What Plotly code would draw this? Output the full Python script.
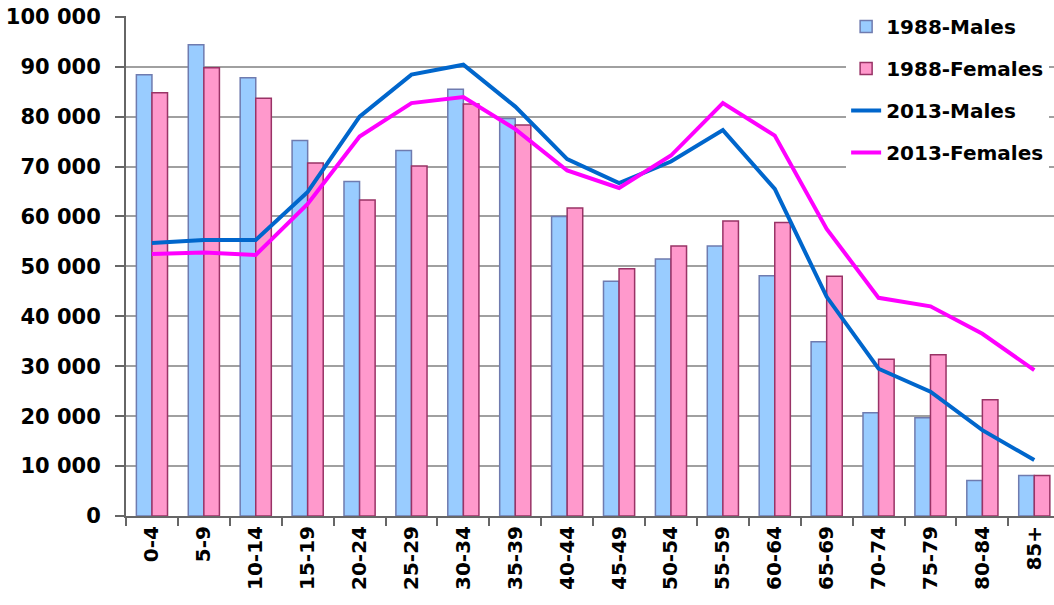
import plotly.graph_objects as go

categories = ["0-4", "5-9", "10-14", "15-19", "20-24", "25-29", "30-34", "35-39",
              "40-44", "45-49", "50-54", "55-59", "60-64", "65-69", "70-74",
              "75-79", "80-84", "85+"]

males_1988 = [88400, 94400, 87800, 75200, 67000, 73200, 85500, 79600, 60000,
              47000, 51500, 54100, 48100, 34900, 20700, 19700, 7100, 8100]
females_1988 = [84800, 89800, 83700, 70700, 63300, 70100, 82500, 78300, 61700,
                49500, 54100, 59100, 58800, 48000, 31400, 32300, 23300, 8100]
males_2013 = [54700, 55300, 55300, 64900, 80000, 88400, 90400, 82000, 71500,
              66700, 71000, 77300, 65500, 43900, 29500, 24900, 17200, 11200]
females_2013 = [52500, 52800, 52300, 62500, 76000, 82700, 83900, 77500, 69200,
                65700, 72200, 82700, 76200, 57500, 43700, 42000, 36500, 29200]

y_tick_values = [0, 10000, 20000, 30000, 40000, 50000, 60000, 70000, 80000, 90000, 100000]
y_tick_labels = ["0", "10 000", "20 000", "30 000", "40 000", "50 000", "60 000",
                 "70 000", "80 000", "90 000", "100 000"]

FONT = "DejaVu Sans"

fig = go.Figure()
fig.add_trace(go.Bar(x=categories, y=males_1988, name="1988-Males", legendgroup="a",
                     marker=dict(color="#99CCFF", line=dict(color="#6F7BAF", width=1.5))))
fig.add_trace(go.Bar(x=categories, y=females_1988, name="1988-Females", legendgroup="b",
                     marker=dict(color="#FF99CC", line=dict(color="#993366", width=1.5))))
fig.add_trace(go.Scatter(x=categories, y=males_2013, name="2013-Males", legendgroup="c",
                         mode="lines", line=dict(color="#0066CC", width=4)))
fig.add_trace(go.Scatter(x=categories, y=females_2013, name="2013-Females", legendgroup="d",
                         mode="lines", line=dict(color="#FF00FF", width=4)))

fig.update_layout(
    width=1054, height=605,
    margin=dict(l=126, r=0, t=16, b=89, autoexpand=False),
    paper_bgcolor="white", plot_bgcolor="white",
    barmode="group", bargap=0.4, bargroupgap=0,
    font=dict(family=FONT, size=20, color="black"),
    legend=dict(x=0.776, y=1.018, xanchor="left", yanchor="top",
                bgcolor="white", tracegroupgap=13,
                font=dict(family=FONT, size=20, weight="bold", color="black")),
    xaxis=dict(range=[-0.5, 17.38], showgrid=False, automargin=False,
               showline=True, linecolor="#666666", linewidth=2,
               ticks="outside", tickson="boundaries", ticklen=8, tickcolor="#666666",
               tickwidth=2, tickangle=-90,
               tickfont=dict(family=FONT, size=20, weight="bold", color="black")),
    yaxis=dict(range=[0, 100150], tickvals=y_tick_values, ticktext=y_tick_labels,
               automargin=False, ticklabeloverflow="allow",
               showgrid=True, gridcolor="#A0A0A0", gridwidth=1.5,
               showline=True, linecolor="#666666", linewidth=2,
               ticks="outside", ticklen=9, tickcolor="#666666", tickwidth=2,
               zeroline=False, ticklabelstandoff=10,
               tickfont=dict(family=FONT, size=21, weight="bold", color="black")),
)

# remove the default 8px body margin so the figure sits at the page origin
fig.write_html("out.html", config={"displayModeBar": False},
               post_script="document.body.style.margin='0';document.body.style.overflow='hidden';")
